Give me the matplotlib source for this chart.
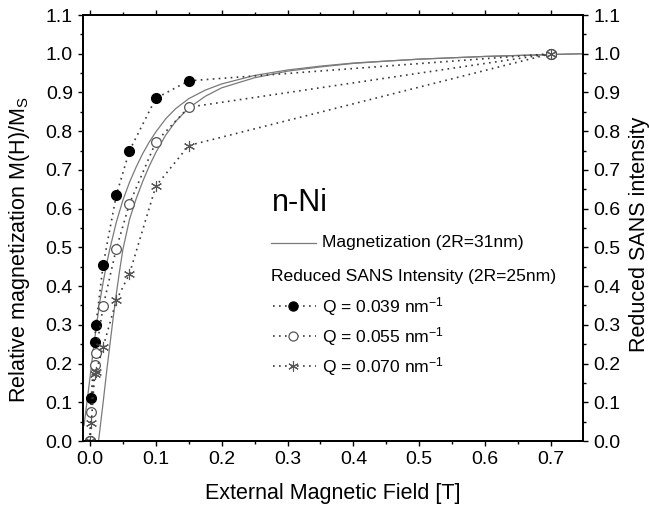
import matplotlib
matplotlib.use('Agg')
import matplotlib.pyplot as plt
from matplotlib.lines import Line2D
from matplotlib.ticker import MultipleLocator, FormatStrFormatter
import numpy as np

plt.rcParams['font.family'] = ['Liberation Sans', 'DejaVu Sans']
plt.rcParams['mathtext.fontset'] = 'custom'
plt.rcParams['mathtext.rm'] = 'Liberation Sans'
plt.rcParams['mathtext.it'] = 'Liberation Sans:italic'

# ---- data ----
field_sans = [0, 0.002, 0.007, 0.009, 0.02, 0.04, 0.06, 0.1, 0.15, 0.7]
q039 = [0, 0.11, 0.255, 0.30, 0.455, 0.635, 0.75, 0.885, 0.93, 1.0]
q055 = [0, 0.075, 0.195, 0.228, 0.348, 0.497, 0.613, 0.772, 0.862, 1.0]
q070 = [0, 0.046, 0.172, 0.178, 0.243, 0.363, 0.432, 0.658, 0.763, 1.0]

mag_down_H = [-0.009, -0.005, 0.0, 0.005, 0.01, 0.015, 0.02, 0.025, 0.03, 0.04,
              0.05, 0.06, 0.07, 0.08, 0.09, 0.1, 0.115, 0.13, 0.15, 0.175,
              0.2, 0.25, 0.3, 0.35, 0.4, 0.45, 0.5, 0.6, 0.7, 0.75]
mag_down_M = [0.04, 0.095, 0.163, 0.235, 0.30, 0.36, 0.41, 0.455, 0.495, 0.565,
              0.622, 0.668, 0.707, 0.742, 0.772, 0.798, 0.832, 0.858, 0.884, 0.906,
              0.922, 0.944, 0.958, 0.968, 0.976, 0.981, 0.986, 0.993, 0.998, 1.0]
mag_up_H = [0.013, 0.02, 0.025, 0.03, 0.035, 0.04, 0.045, 0.05, 0.06, 0.07,
            0.08, 0.09, 0.1, 0.115, 0.13, 0.15, 0.175, 0.2, 0.25, 0.3,
            0.35, 0.4, 0.45, 0.5, 0.6, 0.7, 0.75]
mag_up_M = [0.0, 0.10, 0.175, 0.245, 0.315, 0.38, 0.44, 0.495, 0.572, 0.625,
            0.67, 0.71, 0.745, 0.79, 0.825, 0.86, 0.89, 0.912, 0.938, 0.955,
            0.966, 0.975, 0.981, 0.986, 0.993, 0.998, 1.0]

x_ticks = [0.0, 0.1, 0.2, 0.3, 0.4, 0.5, 0.6, 0.7]
y_ticks = [0.0, 0.1, 0.2, 0.3, 0.4, 0.5, 0.6, 0.7, 0.8, 0.9, 1.0, 1.1]

W, H = 649, 512
fig = plt.figure(figsize=(W / 100, H / 100), dpi=100)
ax = fig.add_axes([83 / W, (H - 441) / H, 500 / W, 426 / H])

mag_color = '#7a7a7a'
dot_color = '#3a3a3a'
ls_dot = (0, (1, 2.6))

ax.plot(mag_down_H, mag_down_M, color=mag_color, lw=0.9, zorder=2)
ax.plot(mag_up_H, mag_up_M, color=mag_color, lw=0.9, zorder=2)

ax.plot(field_sans, q039, ls=ls_dot, color=dot_color, lw=1.2, marker='o', ms=7,
        mfc='black', mec='black', zorder=3)
ax.plot(field_sans, q055, ls=ls_dot, color=dot_color, lw=1.2, marker='o', ms=7,
        mfc='white', mec='#555555', mew=0.9, zorder=3)
ax.plot(field_sans, q070, ls=ls_dot, color=dot_color, lw=1.2, marker=(6, 2, 0), ms=8,
        mfc='none', mec='#555555', mew=0.8, zorder=3)

ax.set_xlim(-0.0106, 0.7486)
ax.set_ylim(0, 1.1)
ax.set_xticks(x_ticks)
ax.set_yticks(y_ticks)
ax.xaxis.set_minor_locator(MultipleLocator(0.05))
ax.yaxis.set_minor_locator(MultipleLocator(0.05))
ax.xaxis.set_major_formatter(FormatStrFormatter('%.1f'))
ax.yaxis.set_major_formatter(FormatStrFormatter('%.1f'))
ax.tick_params(which='both', direction='out', top=True, labelsize=14, width=1)
ax.tick_params(which='major', length=3.8, pad=3.5)
ax.tick_params(which='minor', length=2.2)
for s in ax.spines.values():
    s.set_linewidth(1.3)

ax2 = ax.twinx()
ax2.set_ylim(0, 1.1)
ax2.set_yticks(y_ticks)
ax2.yaxis.set_minor_locator(MultipleLocator(0.05))
ax2.yaxis.set_major_formatter(FormatStrFormatter('%.1f'))
ax2.tick_params(which='both', direction='out', labelsize=14, width=1)
ax2.tick_params(which='major', length=3.8, pad=3.5)
ax2.tick_params(which='minor', length=2.2)
for s in ax2.spines.values():
    s.set_linewidth(1.3)

lab_fs = 15.5
ax.set_xlabel('External Magnetic Field [T]', fontsize=lab_fs, va='center')
ax.xaxis.set_label_coords(0.5, -(494 - 441) / 426)
ax.set_ylabel('Relative magnetization M(H)/M$_\\mathrm{S}$', fontsize=lab_fs,
              va='center', ha='center')
ax.yaxis.set_label_coords(-(83 - 19) / 500, (441 - 250) / 426)
ax2.set_ylabel('Reduced SANS intensity', fontsize=lab_fs, va='center', ha='center',
               rotation=90)
ax2.yaxis.set_label_coords((639.5 - 83) / 500, (441 - 234) / 426)

# ---- legend (manual) ----
def fx(px):
    return px / W

def fy(py):
    return 1 - py / H

leg_fs = 12.6
fig.text(fx(272), fy(203), 'n-Ni', fontsize=22, va='center', ha='left')
fig.add_artist(Line2D([fx(271), fx(316)], [fy(243), fy(243)], color=mag_color, lw=0.9))
fig.text(fx(322), fy(243), 'Magnetization (2R=31nm)', fontsize=leg_fs, va='center')
fig.text(fx(271), fy(277), 'Reduced SANS Intensity (2R=25nm)', fontsize=leg_fs, va='center')

leg_rows = [
    (306, 'Q = 0.039 nm$^{-1}$', dict(marker='o', ms=6.5, mfc='black', mec='black')),
    (336, 'Q = 0.055 nm$^{-1}$', dict(marker='o', ms=6.5, mfc='white', mec='#555555', mew=0.9)),
    (366, 'Q = 0.070 nm$^{-1}$', dict(marker=(6, 2, 0), ms=7.5, mfc='none', mec='#555555', mew=0.8)),
]
for py, label, mk in leg_rows:
    fig.add_artist(Line2D([fx(273), fx(316)], [fy(py), fy(py)], ls=ls_dot,
                          color=dot_color, lw=1.2))
    fig.add_artist(Line2D([fx(293)], [fy(py)], ls='none', **mk))
    fig.text(fx(322), fy(py + 1), label, fontsize=leg_fs, va='center')

fig.savefig('out.png', dpi=100)
